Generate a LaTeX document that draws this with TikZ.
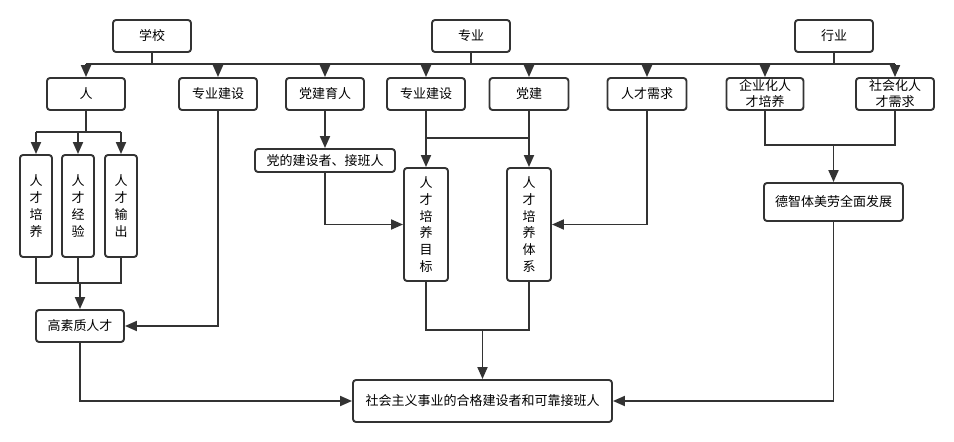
\documentclass[tikz,border=0pt]{standalone}
\usepackage{fontspec}
\newfontfamily\cjk{Noto Sans CJK SC}
\usetikzlibrary{arrows.meta}
\definecolor{ln}{HTML}{333333}
\begin{document}
\begin{tikzpicture}[x=1pt,y=-1pt,
  box/.style={draw=ln,line width=1.9pt,rounded corners=3pt,fill=white,inner sep=0pt,align=center,
    font=\cjk\fontsize{13}{16}\selectfont,text=black},
  vbox/.style={box,font=\cjk\fontsize{13}{16.8}\selectfont},
  line/.style={draw=ln,line width=1.9pt},
  arr/.style={line,-{Triangle[length=12pt,width=10pt]}}]
\useasboundingbox[fill=white] (0,0) rectangle (954,442);
% top row
\node[box,minimum width=78,minimum height=32] (school) at (152,36) {学校};
\node[box,minimum width=78,minimum height=32] (major) at (471,36) {专业};
\node[box,minimum width=78,minimum height=32] (industry) at (834,36) {行业};
% second row
\node[box,minimum width=78,minimum height=32] (ren) at (86,94) {人};
\node[box,minimum width=78,minimum height=32] (zyjsa) at (218,94) {专业建设};
\node[box,minimum width=78,minimum height=32] (djyr) at (325,94) {党建育人};
\node[box,minimum width=78,minimum height=32] (zyjsb) at (426,94) {专业建设};
\node[box,minimum width=79,minimum height=32] (dj) at (529,94) {党建};
\node[box,minimum width=79,minimum height=32] (rcxq) at (647,94) {人才需求};
\node[box,minimum width=77,minimum height=32] (qyh) at (765,94) {企业化人\\才培养};
\node[box,minimum width=78,minimum height=32] (shh) at (895,94) {社会化人\\才需求};
% vertical boxes
\node[vbox,minimum width=32,minimum height=102] (va) at (36,206) {人\\才\\培\\养};
\node[vbox,minimum width=32,minimum height=102] (vb) at (78,206) {人\\才\\经\\验};
\node[vbox,minimum width=32,minimum height=102] (vc) at (121,206) {人\\才\\输\\出};
\node[box,minimum width=88,minimum height=32] (gs) at (80,326) {高素质人才};
\node[box,minimum width=140,minimum height=23] (djjs) at (325,160.5) {党的建设者、接班人};
\node[vbox,minimum width=44,minimum height=113] (mb) at (426,224.5) {人\\才\\培\\养\\目\\标};
\node[vbox,minimum width=44,minimum height=113] (tx) at (529,224.5) {人\\才\\培\\养\\体\\系};
\node[box,minimum width=139,minimum height=38] (dz) at (833.5,202) {德智体美劳全面发展};
\node[box,minimum width=259,minimum height=42] (final) at (482.5,401) {社会主义事业的合格建设者和可靠接班人};
% helper coordinates
\coordinate (bus) at (0,64);
\coordinate (rb) at (0,132);
\coordinate (rb2) at (0,283);
\coordinate (jn) at (0,138);
\coordinate (hj) at (0,145);
\coordinate (mj) at (0,330);
% bus
\draw[line] (school.south) -- (school.south |- bus);
\draw[line] (major.south) -- (major.south |- bus);
\draw[line] (industry.south) -- (industry.south |- bus);
\draw[line] (ren.north |- bus) -- (shh.north |- bus);
\foreach \n in {ren,zyjsa,djyr,zyjsb,dj,rcxq,qyh,shh}
  \draw[arr] (\n.north |- bus) -- (\n.north);
% ren branch
\draw[line] (ren.south) -- (ren.south |- rb);
\draw[line] (va.north |- rb) -- (vc.north |- rb);
\foreach \n in {va,vb,vc}
  \draw[arr] (\n.north |- rb) -- (\n.north);
\draw[line] (va.south) -- (va.south |- rb2) -- (vc.south |- rb2) -- (vc.south);
\draw[line] (vb.south) -- (vb.south |- rb2);
\draw[arr] (gs.north |- rb2) -- (gs.north);
\draw[arr] (zyjsa.south) |- (gs.east);
% party
\draw[arr] (djyr) -- (djjs);
\draw[arr] (djjs.south) |- (mb.west);
\draw[arr] (zyjsb.south) -- (mb.north);
\draw[arr] (dj.south) -- (tx.north);
\draw[line] (zyjsb.south |- jn) -- (dj.south |- jn);
\draw[arr] (rcxq.south) |- (tx.east);
% industry
\draw[line] (qyh.south) -- (qyh.south |- hj) -- (shh.south |- hj) -- (shh.south);
\draw[arr] (dz.north |- hj) -- (dz.north);
% to final
\draw[line] (mb.south) -- (mb.south |- mj) -- (tx.south |- mj) -- (tx.south);
\draw[arr] (final.north |- mj) -- (final.north);
\draw[arr] (gs.south) |- (final.west);
\draw[arr] (dz.south) |- (final.east);
\end{tikzpicture}
\end{document}
